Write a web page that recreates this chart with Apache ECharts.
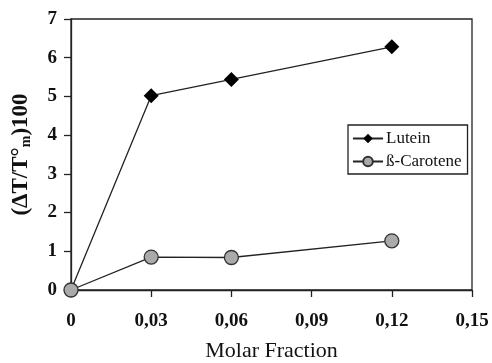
<!DOCTYPE html>
<html>
<head>
<meta charset="utf-8">
<script src="https://cdn.jsdelivr.net/npm/echarts@6/dist/echarts.min.js"></script>
<style>
  html, body { margin: 0; padding: 0; background: #fff; }
  #chart { width: 492px; height: 363px; }
</style>
</head>
<body>
<div id="chart"></div>
<script>
// molar fraction values
const molarFraction = [0, 0.03, 0.06, 0.12]
const luteinValues = [0, 5.02, 5.44, 6.28]
const caroteneValues = [0, 0.85, 0.84, 1.27]
const seriesNames = ['Lutein', 'ß-Carotene']

const font = 'Liberation Serif'
const pair = (xs, ys) => xs.map((x, i) => [x, ys[i]])

const myChart = echarts.init(document.getElementById('chart'))
const option = {
  backgroundColor: '#fff',
  animation: false,
  grid: {
    left: 71,
    right: 20,
    top: 19,
    bottom: 73,
    outerBoundsMode: 'none',
    show: true,
    borderColor: '#222',
    borderWidth: 1.3
  },
  legend: {
    data: seriesNames,
    orient: 'vertical',
    left: 348,
    top: 125,
    padding: [5, 6, 4, 4],
    itemGap: 6,
    itemWidth: 30,
    itemHeight: 12,
    borderColor: '#222',
    borderWidth: 1.3,
    borderRadius: 0,
    textStyle: { fontFamily: font, fontSize: 17, color: '#111', padding: [0, 0, 0, -2] }
  },
  xAxis: {
    type: 'value',
    min: 0,
    max: 0.15,
    interval: 0.03,
    name: 'Molar Fraction',
    nameLocation: 'middle',
    nameGap: 50,
    nameTextStyle: { fontFamily: font, fontSize: 22, color: '#111' },
    splitLine: { show: false },
    axisLine: { lineStyle: { color: '#222', width: 1.3 } },
    axisTick: { show: true, inside: false, length: 7, lineStyle: { color: '#222', width: 1.3 } },
    axisLabel: {
      margin: 22,
      fontFamily: font,
      fontSize: 19,
      fontWeight: 'bold',
      color: '#111',
      formatter: function(v) {
        return v === 0 ? '0' : v.toFixed(2).replace('.', ',')
      }
    }
  },
  yAxis: {
    type: 'value',
    min: 0,
    max: 7,
    interval: 1,
    name: '{b|(ΔT/T°}{s|m}{b|)100}',
    nameLocation: 'middle',
    nameGap: 38,
    nameTextStyle: {
      rich: {
        b: { fontFamily: font, fontSize: 23, fontWeight: 'bold', color: '#111' },
        s: { fontFamily: font, fontSize: 14, fontWeight: 'bold', color: '#111', padding: [9, 0, 0, 0] }
      }
    },
    splitLine: { show: false },
    axisLine: { show: true, lineStyle: { color: '#222', width: 1.3 } },
    axisTick: { show: true, inside: false, length: 7, lineStyle: { color: '#222', width: 1.3 } },
    axisLabel: {
      margin: 14,
      fontFamily: font,
      fontSize: 19,
      fontWeight: 'bold',
      color: '#111'
    }
  },
  series: [
    {
      name: seriesNames[0],
      type: 'line',
      data: pair(molarFraction, luteinValues),
      symbol: 'diamond',
      symbolSize: 15,
      itemStyle: { color: '#000' },
      lineStyle: { color: '#222', width: 1.3 }
    },
    {
      name: seriesNames[1],
      type: 'line',
      data: pair(molarFraction, caroteneValues),
      symbol: 'circle',
      symbolSize: 14,
      itemStyle: { color: '#aaa', borderColor: '#333', borderWidth: 1.3 },
      lineStyle: { color: '#222', width: 1.3 }
    }
  ]
}

option && myChart.setOption(option)
</script>
</body>
</html>
